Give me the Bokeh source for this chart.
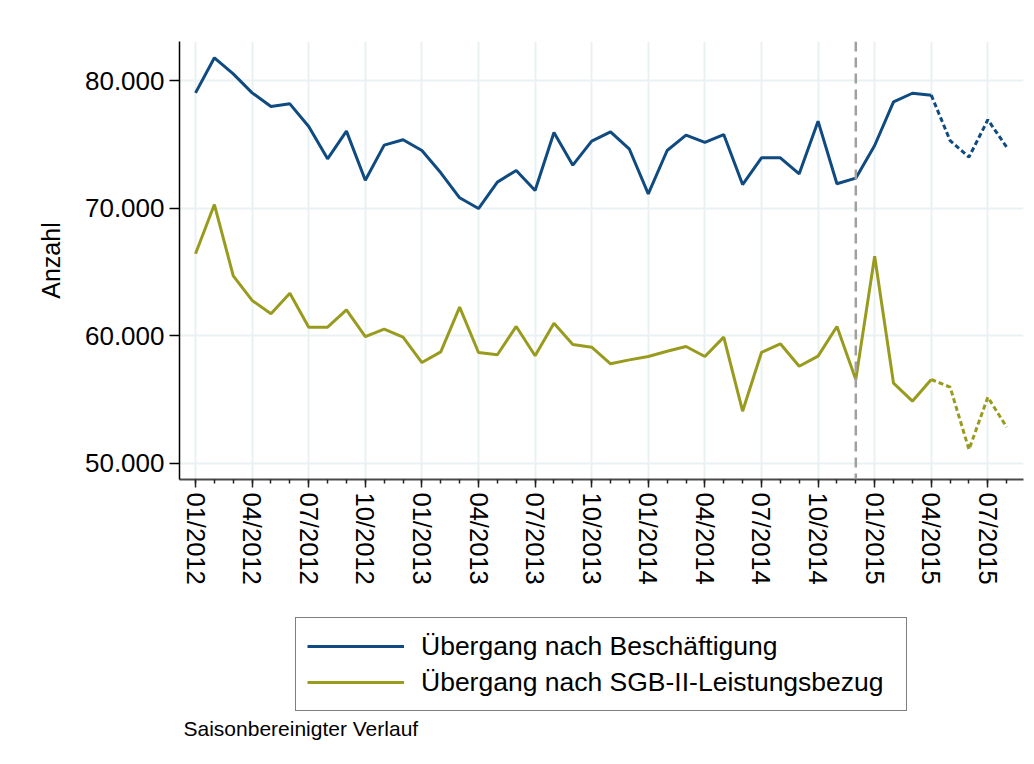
from bokeh.plotting import figure
from bokeh.models import (Range1d, FixedTicker, Span, Legend, LegendItem, Label)
from bokeh.layouts import column
from bokeh.embed import file_html
from bokeh.resources import INLINE

# ---- data ----
months = [f"{m:02d}/{y}" for y in (2012, 2013, 2014, 2015) for m in range(1, 13)][:44]
beschaeftigung = [79030, 81780, 80520, 79030, 77960, 78170, 76390, 73860, 76030, 72180,
                  74930, 75350, 74510, 72760, 70800, 69960, 72030, 72940, 71370, 75920,
                  73360, 75240, 75970, 74610, 71110, 74510, 75710, 75140, 75760, 71840,
                  73940, 73940, 72680, 76810, 71900, 72340, 74900, 78330, 79000, 78850,
                  75290, 73990, 76920, 74770]
sgb2 = [66410, 70270, 64680, 62750, 61700, 63320, 60650, 60650, 62010, 59920,
        60500, 59870, 57880, 58720, 62220, 58670, 58490, 60710, 58410, 60970,
        59290, 59080, 57780, 58090, 58350, 58770, 59140, 58350, 59870, 54060,
        58670, 59350, 57590, 58380, 60710, 56550, 66220, 56260, 54850, 56550,
        55950, 51060, 55160, 52810]
last_actual = "04/2015"       # solid up to here, dashed afterwards
marker_month = "12/2014"      # vertical dashed reference line
y_ticks = [50000, 60000, 70000, 80000]
y_tick_labels = ["50.000", "60.000", "70.000", "80.000"]
series_names = ["Übergang nach Beschäftigung", "Übergang nach SGB-II-Leistungsbezug"]
footnote = "Saisonbereinigter Verlauf"
y_label = "Anzahl"

BLUE = "#0f4a80"
GREEN = "#999b1f"
GRID = "#e9f1f3"
FONT = "Liberation Sans"
NAN = float("nan")

x = list(range(len(months)))
cut = months.index(last_actual)

p = figure(width=1026, height=600, output_backend="svg", toolbar_location=None,
           x_range=Range1d(-0.85, 43.89), y_range=Range1d(48706, 83059),
           min_border_left=179, min_border_top=41, min_border_right=3,
           min_border_bottom=121)
p.outline_line_color = None
p.background_fill_color = "white"
p.border_fill_color = "white"

# grid
p.xgrid.grid_line_color = GRID
p.ygrid.grid_line_color = GRID
p.xgrid.grid_line_width = 2
p.ygrid.grid_line_width = 2

# x axis
major_idx = x[::3]
p.xaxis.ticker = FixedTicker(ticks=major_idx, minor_ticks=x)
p.xaxis.major_label_overrides = {i: months[i] for i in major_idx}
p.xaxis.major_label_orientation = "vertical"
p.xaxis.major_label_text_font = FONT
p.xaxis.major_label_text_font_size = "25.5px"
p.xaxis.major_label_text_color = "black"
p.xaxis.major_label_standoff = 5
p.xaxis.axis_line_color = "#4a4a4a"
p.xaxis.axis_line_width = 2
p.xaxis.major_tick_line_color = "#222222"
p.xaxis.minor_tick_line_color = "#222222"
p.xaxis.major_tick_line_width = 1.5
p.xaxis.minor_tick_line_width = 1.5
p.xaxis.major_tick_out = 8
p.xaxis.major_tick_in = 0
p.xaxis.minor_tick_out = 4
p.xaxis.minor_tick_in = 0

# y axis
p.yaxis.ticker = FixedTicker(ticks=y_ticks, minor_ticks=[])
p.yaxis.major_label_overrides = dict(zip(y_ticks, y_tick_labels))
p.yaxis.major_label_text_font = FONT
p.yaxis.major_label_text_font_size = "26px"
p.yaxis.major_label_text_color = "black"
p.yaxis.major_label_standoff = 5
p.yaxis.axis_line_color = "black"
p.yaxis.axis_line_width = 1.5
p.yaxis.major_tick_line_color = "black"
p.yaxis.major_tick_line_width = 1.5
p.yaxis.major_tick_out = 10
p.yaxis.major_tick_in = 0
p.yaxis.minor_tick_line_color = None
p.yaxis.axis_label = y_label
p.yaxis.axis_label_text_font = FONT
p.yaxis.axis_label_text_font_size = "25px"
p.yaxis.axis_label_text_font_style = "normal"
p.yaxis.axis_label_text_color = "black"
p.yaxis.axis_label_standoff = 17

# reference line
p.add_layout(Span(location=months.index(marker_month), dimension="height",
                  line_color="#a0a0a0", line_width=2.5, line_dash="10 6"))

# series
p.line(x[:cut + 1], beschaeftigung[:cut + 1], line_color=BLUE, line_width=3)
p.line(x[cut:], beschaeftigung[cut:], line_color=BLUE, line_width=3, line_dash="5 3")
p.line(x[:cut + 1], sgb2[:cut + 1], line_color=GREEN, line_width=3)
p.line(x[cut:], sgb2[cut:], line_color=GREEN, line_width=3, line_dash="5 3")

# ---- legend + footnote panel below the chart (frame aligned with chart frame) ----
q = figure(width=1026, height=156, output_backend="svg", toolbar_location=None,
           x_range=Range1d(0, 1), y_range=Range1d(0, 1),
           min_border_left=179, min_border_right=3,
           min_border_top=0, min_border_bottom=0)
q.axis.visible = False
q.grid.visible = False
q.outline_line_color = None
q.background_fill_color = "white"
q.border_fill_color = "white"
# legend proxies (no visible data), styled like the series
l_b = q.line([NAN], [NAN], line_color=BLUE, line_width=3)
l_g = q.line([NAN], [NAN], line_color=GREEN, line_width=3)

legend = Legend(items=[LegendItem(label=series_names[0], renderers=[l_b]),
                       LegendItem(label=series_names[1], renderers=[l_g])],
                location=(116, 45))
legend.label_text_font = FONT
legend.label_text_font_size = "26.5px"
legend.label_text_color = "black"
legend.glyph_width = 97
legend.glyph_height = 34
legend.label_height = 34
legend.label_width = 474
legend.label_standoff = 17
legend.spacing = 2
legend.padding = 11
legend.border_line_color = "black"
legend.border_line_width = 1.5
legend.background_fill_color = "white"
legend.background_fill_alpha = 1
q.add_layout(legend, "center")

q.add_layout(Label(x=4, y=28, x_units="screen", y_units="screen", text=footnote,
                   text_font=FONT, text_font_size="21px", text_color="black",
                   text_baseline="middle"))

open("out.html", "w").write(file_html(column(p, q, spacing=0), INLINE))
